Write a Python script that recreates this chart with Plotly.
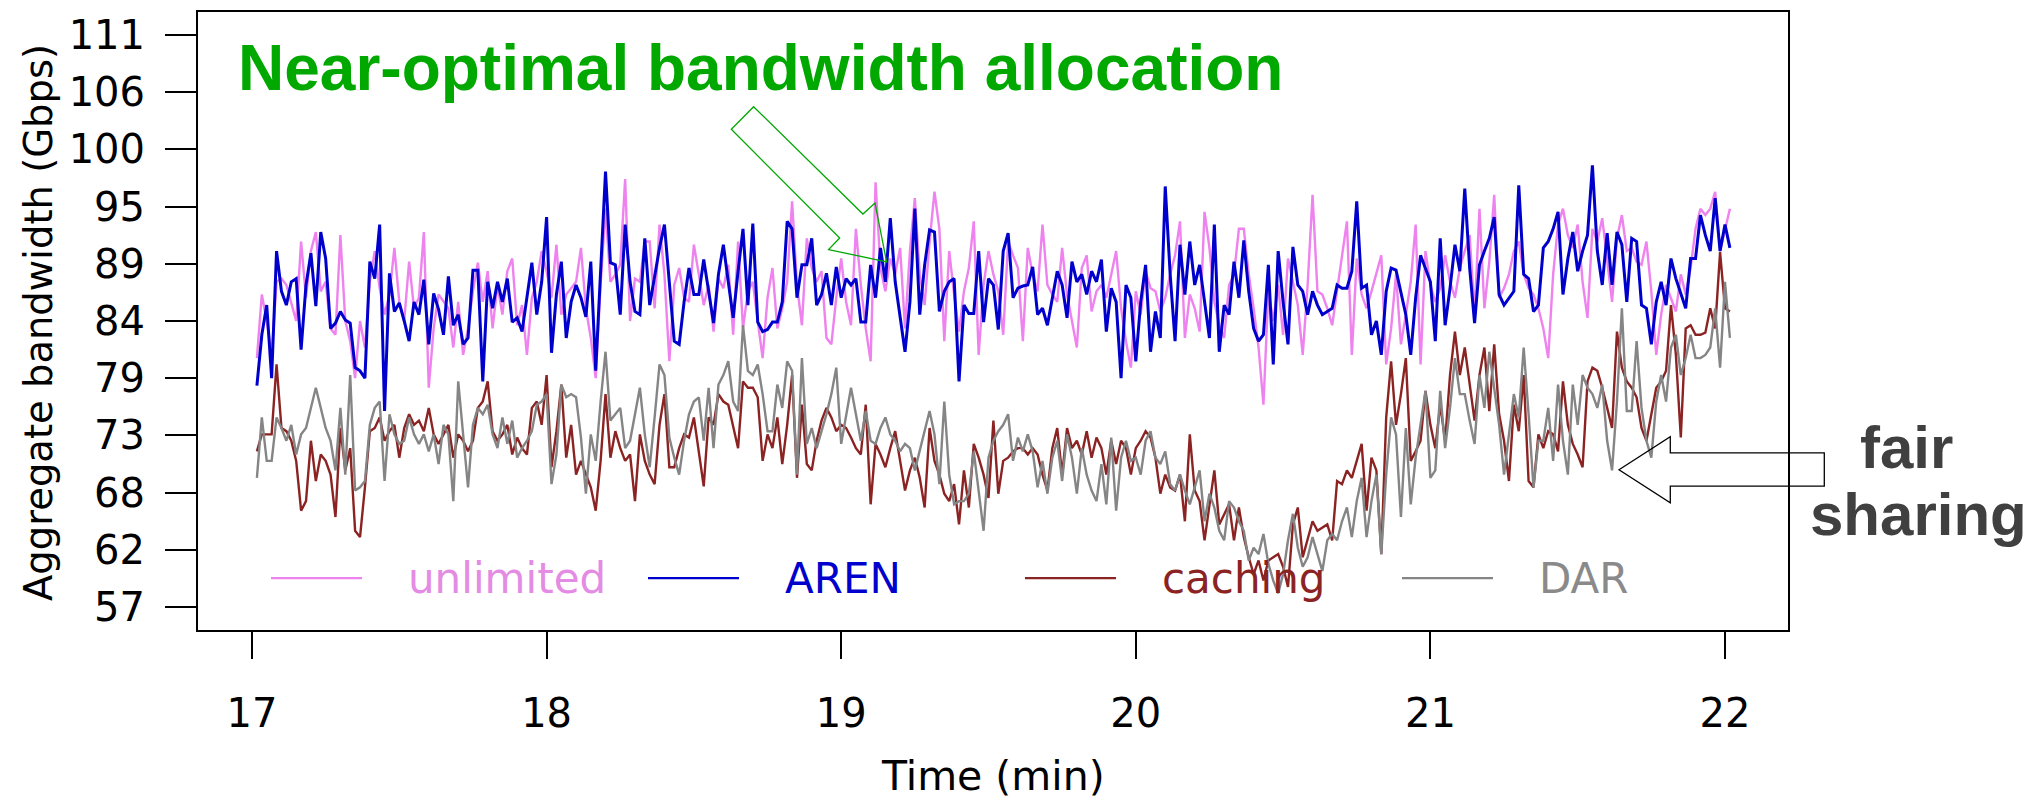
import plotly.graph_objects as go

# ---------------- data (one per second) ----------------
seconds = list(range(1, 302))          # seconds after minute 17
start_minute = 17

unlimited = [
    80.5, 86.5, 84.0, 80.8, 87.7, 88.0, 87.4, 85.8, 84.0, 91.5, 86.2, 90.6, 92.4, 86.8, 87.7, 83.3, 82.7, 92.1, 84.0, 82.1,
    78.6, 84.0, 81.5, 87.7, 90.6, 87.1, 84.6, 86.5, 90.9, 85.8, 84.0, 89.6, 85.2, 86.2, 92.4, 77.7, 83.3, 86.5, 85.8, 85.2,
    81.5, 85.8, 80.8, 83.3, 86.8, 89.5, 85.8, 88.7, 83.3, 87.4, 84.6, 88.7,
    89.9, 83.6, 85.5, 80.8, 86.2, 87.7, 90.6, 88.7, 86.2, 91.2, 84.6, 86.5, 87.1, 87.7, 90.9, 85.2, 82.4, 78.6, 87.4, 94.6,
    87.7, 88.4, 89.3, 97.4, 84.0, 88.0, 87.7, 91.5, 91.5, 85.2, 93.1, 88.4, 80.2, 87.4, 89.0, 86.2, 85.8, 91.2, 88.4, 85.5,
    87.4, 83.0, 88.0, 87.1, 89.3, 82.7, 91.5, 83.3, 86.8, 87.7, 84.0, 80.5, 86.2, 89.0,
    83.3, 85.2, 87.7, 95.3, 87.4, 83.6, 91.8, 89.0, 87.7, 88.7, 82.4, 81.8, 86.2, 89.9, 85.8, 83.6, 92.7, 87.4, 83.3, 80.2,
    97.1, 89.0, 86.8, 89.9, 88.4, 90.9, 83.3, 90.6, 95.6, 88.4, 85.5, 91.5, 96.2, 92.7, 82.1, 90.6, 86.5, 83.0, 86.8, 89.0,
    93.4, 80.8, 87.4, 90.6, 88.4, 86.8, 82.7, 91.5, 90.2, 89.0, 82.1, 90.9, 88.4, 86.8,
    93.1, 87.4, 86.5, 85.8, 90.9, 86.5, 84.0, 81.5, 89.0, 90.2, 84.9, 86.8, 87.4, 86.2, 88.4, 90.6, 85.2, 82.1, 79.6, 86.8,
    84.6, 88.7, 87.1, 86.8, 84.9, 86.2, 88.4, 90.2, 93.4, 82.4, 86.5, 85.2, 83.0, 94.3, 90.9, 85.8, 83.6, 82.4, 87.4, 88.4,
    92.7, 92.7, 88.4, 85.2, 81.5, 76.1, 86.8, 84.0, 87.4, 82.7, 89.9, 87.7, 85.5, 80.8,
    87.4, 95.9, 86.8, 86.5, 85.2, 83.6, 86.8, 89.9, 93.4, 80.8, 89.9, 86.5, 85.2, 86.8, 88.4, 90.2, 79.9, 83.3, 88.4, 81.8,
    84.6, 87.7, 93.1, 79.9, 90.6, 87.4, 85.8, 87.1, 90.2, 87.7, 86.2, 89.0, 90.6, 92.1, 84.6, 94.6, 85.2, 89.6, 95.9, 86.2,
    87.1, 88.4, 90.6, 91.5, 88.4, 87.1, 86.5, 85.2,
    83.3, 80.5, 88.4, 93.1, 94.6, 92.1, 90.9, 93.1, 87.7, 84.3, 92.7, 91.5, 93.7, 89.9, 85.8, 91.8, 94.0, 90.6, 90.9, 89.6,
    89.3, 91.5, 86.8, 80.8, 84.6, 87.4, 86.2, 84.9, 88.4, 86.5, 89.0, 92.7, 94.6, 94.0, 94.6, 96.2, 90.6, 92.7, 94.6,
]

aren = [
    77.9, 82.7, 85.5, 78.6, 90.6, 86.8, 85.5, 87.7, 88.0, 81.3, 87.4, 90.4, 85.4, 92.4, 89.9, 83.3, 83.8, 84.9, 84.1, 83.8,
    79.6, 79.3, 78.6, 89.6, 88.0, 93.1, 75.5, 88.5, 84.9, 85.7, 84.0, 82.1, 85.8, 84.6, 87.9, 81.8, 86.6, 85.1, 82.7, 88.2,
    83.6, 84.6, 81.8, 82.4, 88.8, 88.8, 78.3, 87.7, 85.2, 87.7, 85.8, 88.0,
    83.9, 84.3, 83.0, 86.2, 89.5, 84.6, 87.7, 93.8, 81.0, 86.5, 89.6, 82.4, 85.8, 87.4, 86.2, 84.4, 89.6, 79.3, 88.4, 98.1,
    89.5, 89.3, 84.6, 93.1, 87.7, 84.9, 84.6, 91.8, 85.5, 88.4, 90.9, 93.1, 87.4, 82.1, 81.8, 85.8, 89.0, 86.5, 86.5, 89.8,
    86.8, 83.8, 88.4, 91.2, 87.7, 84.3, 88.7, 92.7, 85.5, 93.2, 83.9, 83.0, 83.2, 83.9,
    83.9, 85.8, 93.4, 92.7, 86.2, 89.3, 89.3, 91.8, 85.5, 86.5, 88.5, 85.5, 89.1, 86.2, 88.0, 87.4, 88.0, 83.9, 83.9, 89.3,
    86.2, 90.9, 87.7, 93.7, 87.7, 84.6, 81.1, 85.8, 94.6, 84.6, 89.3, 92.6, 92.4, 84.9, 86.8, 87.7, 88.0, 78.3, 85.5, 84.7,
    84.7, 90.6, 83.9, 88.0, 87.4, 83.2, 90.6, 92.3, 86.2, 87.1, 87.3, 87.4, 89.1, 84.6,
    85.2, 83.6, 86.2, 88.7, 87.4, 84.3, 89.6, 87.7, 88.4, 86.5, 88.7, 87.7, 89.8, 83.0, 87.1, 85.8, 78.6, 87.4, 86.2, 80.2,
    85.8, 89.3, 81.1, 84.9, 82.4, 96.7, 88.4, 82.1, 91.2, 86.5, 91.5, 87.4, 89.3, 85.8, 82.4, 93.1, 81.1, 85.5, 84.6, 89.6,
    86.2, 91.6, 86.8, 83.3, 82.1, 82.7, 89.3, 79.9, 90.6, 85.8, 81.8, 91.0, 87.4, 86.8,
    84.6, 86.8, 85.5, 84.6, 84.9, 85.2, 87.4, 87.1, 87.1, 88.7, 95.3, 87.1, 87.4, 82.7, 84.0, 80.8, 86.8, 89.0, 88.8, 86.8,
    84.6, 80.8, 86.2, 90.2, 89.0, 87.7, 82.1, 91.8, 83.6, 87.1, 91.2, 88.7, 96.5, 89.0, 83.8, 89.3, 90.6, 91.8, 93.8, 86.5,
    85.5, 86.2, 86.8, 96.8, 88.4, 88.0, 84.9, 85.5,
    90.9, 91.5, 92.7, 94.3, 86.5, 89.9, 92.4, 88.7, 90.6, 92.1, 98.7, 90.6, 87.4, 92.3, 87.4, 92.4, 91.2, 85.8, 91.8, 91.5,
    85.5, 85.2, 81.8, 85.8, 87.7, 85.5, 89.9, 88.0, 86.5, 85.2, 89.9, 89.9, 94.0, 92.1, 90.6, 95.6, 90.6, 93.1, 90.9,
]

caching = [
    71.7, 73.3, 73.3, 73.3, 79.9, 73.9, 73.6, 72.7, 70.8, 66.1, 67.0, 72.7, 68.9, 71.4, 70.8, 69.5, 65.5, 73.9, 69.9, 72.0,
    64.2, 63.6, 68.3, 73.6, 73.9, 74.9, 72.7, 73.6, 74.2, 71.1, 73.9, 75.2, 74.2, 74.6, 73.6, 75.8, 73.3, 72.4, 73.3, 74.2,
    71.1, 73.3, 72.7, 71.7, 72.7, 75.8, 76.4, 78.3, 73.6, 72.7, 73.3, 74.2,
    71.4, 73.0, 72.0, 71.4, 75.8, 76.4, 74.2, 78.9, 70.2, 73.6, 78.0, 71.1, 74.2, 69.5, 70.8, 69.5, 68.3, 66.1, 70.8, 77.1,
    71.1, 73.6, 72.0, 70.8, 71.4, 67.0, 73.3, 70.8, 69.5, 68.6, 74.2, 77.1, 70.2, 70.2, 72.0, 73.3, 73.0, 74.9, 71.7, 68.4,
    74.9, 74.2, 77.1, 76.4, 76.1, 73.9, 72.0, 78.3, 77.7, 77.7, 76.8, 70.8, 73.3, 72.0,
    74.9, 70.5, 74.2, 78.9, 69.2, 76.1, 70.5, 69.9, 72.7, 74.6, 75.8, 74.9, 73.6, 74.2, 73.9, 73.0, 72.0, 71.4, 76.1, 66.7,
    72.4, 71.4, 70.2, 72.0, 73.6, 70.8, 68.0, 69.9, 71.1, 69.2, 66.4, 73.9, 70.8, 69.5, 67.7, 67.0, 68.6, 64.8, 69.9, 66.4,
    72.4, 71.1, 69.5, 67.3, 74.6, 67.7, 70.8, 71.1, 71.7, 72.0, 72.0, 71.4, 72.0, 71.4,
    69.5, 68.0, 72.0, 73.9, 69.5, 73.9, 72.0, 72.7, 71.4, 73.6, 71.1, 73.0, 72.0, 69.5, 72.7, 70.5, 72.7, 72.0, 69.5, 72.0,
    72.7, 73.6, 73.0, 71.1, 67.7, 69.5, 68.3, 68.0, 69.5, 65.1, 73.3, 68.0, 67.0, 63.3, 66.4, 69.9, 64.8, 65.8, 66.7, 63.3,
    66.4, 63.6, 61.7, 60.1, 61.4, 59.5, 61.4, 61.7, 62.0, 60.8, 58.9, 64.8, 66.4, 61.7,
    63.3, 65.1, 64.2, 64.5, 64.8, 63.3, 68.9, 68.6, 69.9, 69.2, 70.8, 72.4, 66.1, 71.1, 69.9, 62.0, 74.9, 80.2, 74.2, 77.1,
    80.5, 70.8, 71.7, 72.7, 77.4, 74.2, 72.0, 76.1, 72.7, 78.9, 83.0, 78.9, 81.5, 78.0, 74.6, 78.9, 81.5, 75.5, 81.8, 75.2,
    72.7, 68.9, 76.1, 73.6, 78.9, 68.9, 68.3, 73.3,
    72.0, 73.6, 73.3, 71.7, 78.3, 74.2, 72.4, 71.4, 70.2, 78.3, 79.6, 79.3, 77.7, 75.8, 73.9, 83.0, 79.6, 78.3, 77.7, 76.8,
    73.9, 72.7, 75.2, 77.7, 78.3, 79.3, 85.5, 80.8, 73.0, 83.3, 83.6, 82.7, 82.7, 82.9, 85.2, 83.3, 90.5, 85.2, 84.9,
]

dar = [
    69.2, 74.9, 70.8, 70.8, 74.9, 73.9, 72.7, 74.2, 71.4, 73.3, 73.9, 75.8, 77.7, 75.8, 73.9, 72.7, 69.9, 75.8, 69.5, 78.9,
    68.0, 68.3, 68.9, 74.2, 75.8, 76.4, 68.9, 75.2, 73.3, 72.4, 72.7, 74.9, 73.3, 72.4, 73.3, 71.7, 73.3, 70.5, 74.2, 73.3,
    67.0, 78.3, 73.3, 68.3, 74.2, 75.8, 75.2, 76.1, 73.3, 72.0, 74.9, 72.4,
    74.6, 71.1, 72.0, 72.7, 73.6, 76.1, 76.4, 77.1, 68.6, 71.4, 78.0, 76.8, 77.1, 76.8, 73.0, 67.7, 73.3, 70.8, 76.4, 81.1,
    74.6, 75.2, 75.8, 72.0, 72.7, 75.2, 77.7, 73.3, 70.2, 74.9, 79.9, 78.9, 73.0, 71.1, 69.5, 72.7, 75.2, 76.4, 76.8, 72.7,
    77.7, 72.0, 78.0, 78.9, 80.2, 76.4, 75.5, 83.6, 79.3, 78.9, 79.9, 77.1, 73.6, 73.6,
    78.0, 75.8, 80.2, 79.3, 69.5, 80.5, 72.4, 73.9, 72.0, 73.6, 75.2, 77.1, 79.6, 72.4, 75.2, 77.7, 75.2, 72.7, 75.5, 72.7,
    72.4, 73.9, 74.9, 73.3, 72.7, 71.7, 72.4, 72.0, 69.9, 71.7, 73.6, 75.5, 73.3, 68.6, 76.4, 69.5, 66.7, 67.0, 67.0, 67.7,
    71.7, 68.0, 64.2, 71.1, 72.7, 73.6, 74.2, 75.2, 70.8, 73.0, 71.7, 73.3, 71.7, 68.3,
    70.8, 67.7, 71.1, 72.7, 68.9, 73.3, 71.1, 67.7, 72.0, 69.5, 68.0, 67.0, 70.5, 66.7, 73.0, 66.1, 71.1, 72.7, 70.8, 71.1,
    69.5, 72.7, 73.6, 71.1, 70.5, 71.7, 68.6, 68.0, 69.5, 68.0, 66.7, 68.3, 69.9, 65.1, 67.7, 66.4, 64.2, 63.3, 67.0, 66.4,
    65.1, 64.2, 61.4, 62.6, 62.0, 63.9, 61.1, 59.5, 58.3, 60.1, 63.3, 65.8, 62.6, 60.8,
    61.7, 63.6, 62.0, 60.4, 63.3, 63.9, 63.3, 65.1, 66.4, 63.6, 67.0, 69.2, 63.6, 67.0, 69.5, 62.0, 69.5, 74.9, 73.3, 65.5,
    73.9, 66.7, 71.1, 74.2, 77.4, 69.2, 69.9, 77.4, 72.0, 75.8, 80.5, 77.1, 77.1, 74.6, 72.4, 78.9, 75.8, 81.1, 77.7, 74.2,
    69.5, 73.3, 77.1, 74.9, 81.5, 75.2, 68.3, 72.7,
    72.7, 75.8, 70.8, 78.0, 72.7, 69.5, 78.0, 74.2, 78.9, 77.7, 77.1, 75.8, 78.0, 72.7, 69.9, 76.4, 85.2, 75.5, 75.5, 82.1,
    75.8, 72.7, 71.1, 76.4, 78.9, 76.4, 81.5, 82.7, 78.9, 80.5, 82.7, 80.5, 80.5, 80.8, 81.5, 85.2, 79.6, 87.7, 82.4,
]

series_names = ["unlimited", "AREN", "caching", "DAR"]
series_values = [unlimited, aren, caching, dar]

x_tick_values = [17, 18, 19, 20, 21, 22]
y_tick_values = [57, 62.4, 67.8, 73.2, 78.6, 84, 89.4, 94.8, 100.2, 105.6, 111]
y_tick_labels = ["57", "62", "68", "73", "79", "84", "89", "95", "100", "106", "111"]

title_text = "Near-optimal bandwidth allocation"
side_text = ["fair", "sharing"]
x_title = "Time (min)"
y_title = "Aggregate bandwidth (Gbps)"

# ---------------- styling / layout ----------------
series_colors = ["#EE82EE", "#0000CD", "#8B2323", "#858585"]
legend_text_colors = ["#E48BE4", "#0000CD", "#8B2323", "#8A8A8A"]
series_widths = [2.4, 3.0, 2.4, 2.4]

W, H = 2031, 800
L, R, T, B = 198, 243, 10, 170
PW, PH = W - L - R, H - T - B
R_FONT = "DejaVu Sans"
P_FONT = "Liberation Sans, Arial, sans-serif"


def px(x):
    return (x - L) / PW


def py(y):
    return (T + PH - y) / PH


times = [start_minute + s / 60 for s in seconds]

fig = go.Figure()
for name, vals, col, w in zip(series_names, series_values, series_colors, series_widths):
    fig.add_trace(go.Scatter(x=times[:len(vals)], y=vals, mode="lines", name=name,
                             line=dict(color=col, width=w), hoverinfo="skip"))

shapes = []
annotations = []

# green block arrow
green_pts = [(753.6, 105), (862.9, 212.7), (875, 201.7), (886.6, 260.7),
             (828.6, 248.3), (839.7, 236.7), (731.3, 127.7)]
path = "M " + " L ".join(f"{px(a):.5f},{py(b):.5f}" for a, b in green_pts) + " Z"
shapes.append(dict(type="path", xref="paper", yref="paper", path=path,
                   line=dict(color="#00A800", width=1.3), fillcolor="rgba(0,0,0,0)", layer="above"))

# black block arrow
black_pts = [(1619, 469.3), (1670.3, 436), (1670.3, 452.3), (1824.3, 452.3),
             (1824.3, 485.7), (1670.3, 485.7), (1670.3, 502.3)]
path = "M " + " L ".join(f"{px(a):.5f},{py(b):.5f}" for a, b in black_pts) + " Z"
shapes.append(dict(type="path", xref="paper", yref="paper", path=path,
                   line=dict(color="black", width=1.3), fillcolor="rgba(0,0,0,0)", layer="above"))

# in-plot legend (R style)
for i, (name, col, tcol) in enumerate(zip(series_names, series_colors, legend_text_colors)):
    x0 = 271 + 377 * i
    shapes.append(dict(type="line", xref="paper", yref="paper",
                       x0=px(x0), x1=px(x0 + 91), y0=py(578), y1=py(578),
                       line=dict(color=col, width=2.4)))
    annotations.append(dict(text=name, xref="paper", yref="paper", x=px(x0 + 135), y=py(578.5),
                            xanchor="left", yanchor="middle", showarrow=False,
                            font=dict(family=R_FONT, size=42, color=tcol)))

annotations.append(dict(text=f"<b>{title_text}</b>", xref="paper", yref="paper",
                        x=px(236), y=py(65.8), xanchor="left", yanchor="middle", showarrow=False,
                        font=dict(family=P_FONT, size=64, color="#00A800")))
annotations.append(dict(text=f"<b>{side_text[0]}</b>", xref="paper", yref="paper",
                        x=px(1906), y=py(447), xanchor="center", yanchor="middle", showarrow=False,
                        font=dict(family=P_FONT, size=60, color="#404040")))
annotations.append(dict(text=f"<b>{side_text[1]}</b>", xref="paper", yref="paper",
                        x=px(1918), y=py(514), xanchor="center", yanchor="middle", showarrow=False,
                        font=dict(family=P_FONT, size=60, color="#404040")))
annotations.append(dict(text=x_title, xref="paper", yref="paper", x=0.5, y=py(776),
                        xanchor="center", yanchor="middle", showarrow=False,
                        font=dict(family=R_FONT, size=41, color="black")))
annotations.append(dict(text=y_title, xref="paper", yref="paper", x=px(39), y=py(322),
                        xanchor="center", yanchor="middle", showarrow=False, textangle=-90,
                        font=dict(family=R_FONT, size=38.5, color="black")))

fig.update_layout(
    width=W, height=H, margin=dict(l=L, r=R, t=T, b=B),
    paper_bgcolor="white", plot_bgcolor="white", showlegend=False,
    shapes=shapes, annotations=annotations,
    xaxis=dict(range=[16.8167, 22.2139], tickmode="array", tickvals=x_tick_values,
               ticks="outside", ticklen=27, tickwidth=2, tickcolor="black",
               showline=True, linewidth=2, linecolor="black", mirror=True,
               showgrid=False, zeroline=False, ticklabelstandoff=20,
               tickfont=dict(family=R_FONT, size=40, color="black")),
    yaxis=dict(range=[54.836, 113.164], tickmode="array", tickvals=y_tick_values,
               ticktext=y_tick_labels, ticks="outside", ticklen=31, tickwidth=2,
               tickcolor="black", showline=True, linewidth=2, linecolor="black", mirror=True,
               showgrid=False, zeroline=False, ticklabelstandoff=12,
               tickfont=dict(family=R_FONT, size=40, color="black")),
)

fig.write_html("out.html")
